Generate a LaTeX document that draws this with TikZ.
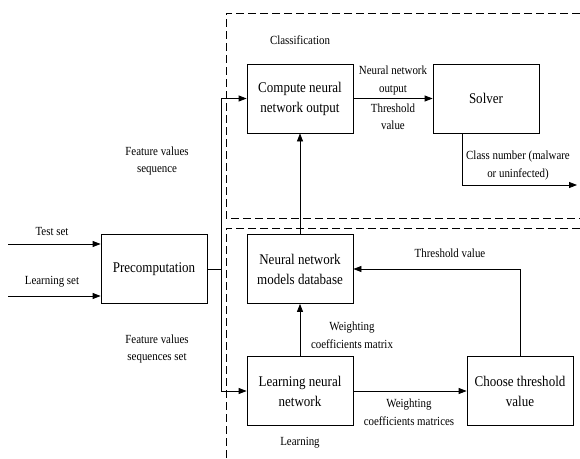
\documentclass[tikz,border=0pt]{standalone}
\usepackage{fontspec}
\setmainfont{Liberation Serif}[FakeStretch=0.88]
\usetikzlibrary{arrows.meta}
\begin{document}
\begin{tikzpicture}[x=1pt,y=-1pt,
  box/.style={draw,line width=0.8pt,minimum width=106pt,minimum height=69pt,align=center,inner sep=1pt,
    font=\fontsize{14.8}{20}\selectfont},
  lbl/.style={align=center,inner sep=0pt,font=\fontsize{12.4}{17.5}\selectfont},
  conn/.style={line width=0.8pt,-{Triangle[length=8pt,width=6pt]}},
  region/.style={line width=0.8pt,dash pattern=on 8pt off 4pt}]
\useasboundingbox (0,0) rectangle (580,458);
% regions
\draw[region] (580,13) -- (226,13) -- (226,218) -- (580,218);
\draw[region] (580,228) -- (226,228) -- (226,458);
% boxes
\node[box] (comp) at (300,98.5) {Compute neural\\network output};
\node[box] (solv) at (486,98.5) {Solver};
\node[box] (db) at (300,269) {Neural network\\models database};
\node[box] (learn) at (300,391) {Learning neural\\network};
\node[box] (choose) at (520,391) {Choose threshold\\value};
\node[box] (pre) at (154,269) {Precomputation};
% free ends
\coordinate (ts) at (8,244);
\coordinate (ls) at (8,296);
\coordinate (jn) at (221,269);
\coordinate (out) at (577,185);
% connectors
\draw[conn] (ts) -- (ts -| pre.west);
\draw[conn] (ls) -- (ls -| pre.west);
\draw[line width=0.8pt] (pre.east) -- (jn);
\draw[conn] (jn) |- (comp.west);
\draw[conn] (jn) |- (learn.west);
\draw[conn] (comp.east) -- (solv.west);
\draw[conn] (solv.south -| 462,0) -- (462,185) -- (out);
\draw[conn] (db.north) -- (comp.south);
\draw[conn] (learn.north) -- (db.south);
\draw[conn] (learn.east) -- (choose.west);
\draw[conn] (choose.north) |- (db.east);
% labels
\node[lbl] (ltest) at (52,231) {Test set};
\node[lbl] (llearn) at (52,282) {Learning set};
\node[lbl] (lcls) at (300,40) {Classification};
\node[lbl] (llrn) at (300,443) {Learning};
\node[lbl] (lfvs) at (157,161) {Feature values\\sequence};
\node[lbl] (lfvss) at (157,349) {Feature values\\sequences set};
\node[lbl] (lnno) at (393,80.5) {Neural network\\output};
\node[lbl] (lthr) at (393,117) {Threshold\\value};
\node[lbl] (lcn) at (518,165.5) {Class number (malware\\or uninfected)};
\node[lbl] (lthv) at (450,253) {Threshold value};
\node[lbl] (lwcm) at (352,335.5) {Weighting\\coefficients matrix};
\node[lbl] (lwcms) at (409,412) {Weighting\\coefficients matrices};
\end{tikzpicture}
\end{document}
